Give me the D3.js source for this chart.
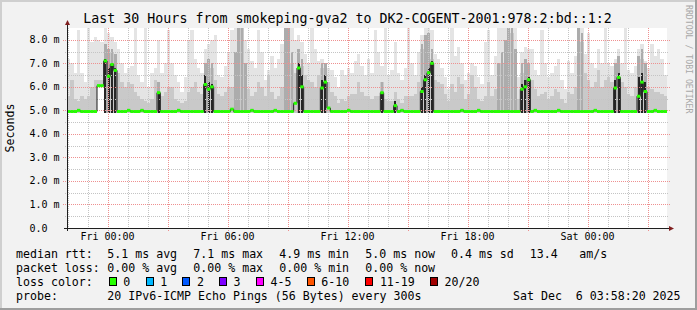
<!DOCTYPE html>
<html>
<head>
<meta charset="utf-8">
<script src="https://cdn.jsdelivr.net/npm/d3@7"></script>
<style>
  body { margin: 0; background: #fff; }
  svg text { font-family: "DejaVu Sans Mono", monospace; fill: #000; }
</style>
</head>
<body>
<div id="chart"></div>
<script>
// 10 minute bins, 30 hours back from Sat Dec 6 03:58:20 2025
const start = new Date(2025, 11, 4, 21, 58, 20);
const end = new Date(2025, 11, 6, 3, 58, 20);
const stepMinutes = 10;

// median rtt (ms)
const median = [
  4.95,4.95,4.95,5.0,4.95,4.95,4.95,4.95,4.95,6.05,6.05,7.1,6.45,6.95,6.7,4.95,4.95,4.95,5.0,4.95,
  4.95,4.95,5.0,4.95,4.95,4.95,4.95,5.75,4.95,4.95,4.95,4.95,4.95,5.0,4.95,4.95,4.95,4.95,4.95,4.95,
  4.95,6.1,5.9,6.0,4.95,4.95,4.95,4.95,4.95,5.05,4.95,4.95,4.95,4.95,4.95,5.0,4.95,4.95,4.95,4.95,
  4.95,4.95,5.0,4.95,4.95,4.95,4.95,4.95,5.3,6.8,6.0,4.95,4.95,4.95,4.95,4.95,5.95,6.2,5.1,4.95,
  4.95,4.95,4.95,4.95,5.0,4.95,4.95,4.95,4.95,4.95,4.95,4.95,4.95,4.95,5.75,4.95,4.95,4.95,5.2,4.95,
  5.0,4.95,4.95,4.95,4.95,4.95,5.8,6.3,6.6,7.0,4.95,4.95,4.95,4.95,4.95,4.95,4.95,4.95,5.0,4.95,
  4.95,4.95,4.95,5.0,4.95,4.95,4.95,4.95,4.95,4.95,4.95,4.95,4.95,4.95,4.95,4.95,5.9,6.0,6.3,4.95,
  5.0,4.95,4.95,4.95,4.95,4.95,4.95,5.0,4.95,4.95,4.95,4.95,4.95,4.95,4.95,4.95,4.95,4.95,5.0,4.95,
  4.95,4.95,4.95,4.95,5.95,6.4,4.95,4.95,4.95,4.95,4.95,5.6,6.2,5.8,4.95,4.95,5.0,4.95,4.95,4.95
];

// lowest ping of the bin (ms)
const lowPing = [
  4.9,4.9,4.9,4.9,4.9,4.9,4.9,4.9,4.9,6.0,6.0,4.9,4.9,4.9,4.9,4.9,4.9,4.9,4.9,4.9,
  4.9,4.9,4.9,4.9,4.9,4.9,4.9,4.9,4.9,4.9,4.9,4.9,4.9,4.9,4.9,4.9,4.9,4.9,4.9,4.9,
  4.9,4.9,4.9,4.9,4.9,4.9,4.9,4.9,4.9,4.9,4.9,4.9,4.9,4.9,4.9,4.9,4.9,4.9,4.9,4.9,
  4.9,4.9,4.9,4.9,4.9,4.9,4.9,4.9,4.9,4.9,4.9,4.9,4.9,4.9,4.9,4.9,4.9,4.9,4.9,4.9,
  4.9,4.9,4.9,4.9,4.9,4.9,4.9,4.9,4.9,4.9,4.9,4.9,4.9,4.9,4.9,4.9,4.9,4.9,4.9,4.9,
  4.9,4.9,4.9,4.9,4.9,4.9,4.9,4.9,4.9,4.9,4.9,4.9,4.9,4.9,4.9,4.9,4.9,4.9,4.9,4.9,
  4.9,4.9,4.9,4.9,4.9,4.9,4.9,4.9,4.9,4.9,4.9,4.9,4.9,4.9,4.9,4.9,4.9,4.9,4.9,4.9,
  4.9,4.9,4.9,4.9,4.9,4.9,4.9,4.9,4.9,4.9,4.9,4.9,4.9,4.9,4.9,4.9,4.9,4.9,4.9,4.9,
  4.9,4.9,4.9,4.9,4.9,4.9,4.9,4.9,4.9,4.9,4.9,4.9,4.9,4.9,4.9,4.9,4.9,4.9,4.9,4.9
];

// highest ping of the bin (outer smoke)
const highPing = [
  7.2,7.0,6.6,8.4,6.6,6.2,8.5,7.9,8.1,8.0,7.9,8.5,8.3,8.1,7.9,7.6,7.0,6.6,6.8,6.9,
  8.5,6.5,6.2,8.5,6.0,6.6,6.8,8.0,6.6,7.0,8.4,7.0,6.5,6.2,5.8,6.4,8.0,8.4,7.2,6.8,
  6.6,7.6,7.8,8.0,8.2,6.5,6.4,6.9,7.5,8.4,8.5,8.5,8.5,8.0,7.6,7.1,6.8,8.4,7.5,6.3,
  6.7,7.3,6.8,7.2,7.8,8.5,8.5,8.5,8.0,8.2,7.9,7.4,7.0,8.5,7.6,7.1,7.2,7.0,6.8,6.7,
  6.4,6.0,6.7,6.5,6.8,6.6,7.1,7.4,6.9,6.5,7.2,6.6,8.4,7.5,6.9,8.5,6.5,6.7,7.9,6.6,
  6.3,6.8,8.5,7.0,6.5,7.5,8.2,8.5,8.5,8.4,7.4,7.2,6.8,6.4,5.9,8.5,7.3,7.7,7.0,6.3,
  6.6,7.0,6.9,6.4,6.1,7.9,8.4,6.5,7.3,8.5,8.5,8.5,8.5,8.5,8.5,6.4,7.5,7.7,7.6,7.6,
  6.7,6.5,8.4,7.0,6.4,6.6,6.9,7.2,6.3,5.9,7.1,6.6,7.3,8.5,8.5,7.4,8.3,7.0,6.8,7.6,
  7.0,8.5,7.0,6.9,7.2,7.6,7.0,8.5,6.7,6.6,6.9,7.6,7.8,7.1,6.8,7.8,7.3,7.6,7.2,6.5
];

// upper bulk of the pings (middle smoke)
const midPing = [
  5.6,6.3,5.5,5.4,5.6,5.5,5.6,6.0,6.3,6.3,6.3,7.6,7.6,7.5,7.3,6.6,6.2,6.0,6.2,6.1,
  5.8,5.6,5.5,5.4,5.3,5.5,6.3,6.0,5.6,5.8,6.0,6.0,5.5,5.4,5.3,5.4,5.8,6.0,6.2,5.8,
  5.7,6.9,7.0,6.8,6.3,5.7,5.6,5.8,6.0,6.0,7.0,8.3,8.5,6.5,5.9,5.6,5.8,6.2,6.0,5.6,
  6.5,5.8,5.5,5.6,6.0,7.8,7.8,7.0,6.6,7.3,6.9,6.5,6.3,6.2,6.0,6.5,6.8,6.6,6.2,5.8,
  5.6,5.3,5.5,5.4,5.6,5.7,5.7,6.2,5.8,5.6,5.6,5.5,5.6,5.6,6.2,5.5,5.4,5.4,5.8,5.5,
  5.3,5.6,5.6,5.6,5.7,6.2,7.6,7.8,7.9,7.2,6.3,6.2,6.1,5.7,5.4,6.1,5.8,6.4,6.1,5.5,
  5.7,6.5,6.0,5.5,5.4,5.6,6.2,5.6,5.9,6.6,7.0,7.5,8.2,8.3,7.2,5.5,6.6,6.8,6.7,6.3,
  5.9,5.6,5.7,5.8,5.5,5.6,5.9,5.8,5.5,5.3,5.8,5.7,6.0,8.0,7.9,6.6,6.3,6.0,6.2,6.7,
  6.0,6.3,6.4,6.2,6.8,7.1,6.2,6.0,5.7,5.6,6.0,6.9,7.2,6.5,6.0,5.9,5.8,5.8,5.7,5.6
];

// inner band of the pings in busy bins (darker smoke), 0 = none
const corePing = [
  0,0,0,0,0,0,0,0,0,0,0,7.8,7.6,7.6,7.4,0,0,0,0,0,
  0,0,0,0,0,0,0,6.2,0,0,0,0,0,0,0,0,0,0,0,0,
  0,7.0,7.2,7.0,0,0,0,0,0,0,7.5,8.5,8.5,7.0,0,0,0,0,0,0,
  0,0,0,0,0,8.5,8.5,7.5,0,7.6,7.2,0,0,0,0,0,7.0,7.0,0,0,
  0,0,0,0,0,0,0,0,0,0,0,0,0,0,6.2,0,0,0,0,0,
  0,0,0,0,0,0,7.8,8.2,8.3,7.6,0,0,0,0,0,0,0,0,0,0,
  0,0,0,0,0,0,0,0,0,7.0,7.5,8.0,8.5,8.5,7.6,0,7.0,7.2,7.0,0,
  0,0,0,0,0,0,0,0,0,0,0,0,0,8.5,8.3,0,0,0,0,0,
  0,0,0,0,7.0,7.3,0,0,0,0,0,7.3,7.6,7.0,0,0,0,0,0,0
];

// dense pings around an elevated median (dark smoke), 0 = none
const densePing = [
  0,0,0,0,0,0,0,0,0,0,0,7.2,6.8,7.0,6.8,0,0,0,0,0,
  0,0,0,0,0,0,0,5.8,0,0,0,0,0,0,0,0,0,0,0,0,
  0,6.5,6.2,6.1,0,0,0,0,0,0,0,0,0,0,0,0,0,0,0,0,
  0,0,0,0,0,0,0,0,0,7.0,6.5,0,0,0,0,0,6.3,6.5,0,0,
  0,0,0,0,0,0,0,0,0,0,0,0,0,0,5.8,0,0,0,5.4,0,
  0,0,0,0,0,0,6.0,6.5,6.8,7.1,0,0,0,0,0,0,0,0,0,0,
  0,0,0,0,0,0,0,0,0,0,0,0,0,0,0,0,6.1,6.3,6.4,0,
  0,0,0,0,0,0,0,0,0,0,0,0,0,0,0,0,0,0,0,0,
  0,0,0,0,6.3,6.6,0,0,0,0,0,6.4,6.6,6.2,0,0,0,0,0,0
];

const yTicks = [0, 1, 2, 3, 4, 5, 6, 7, 8];
const lossLabels = ["0", "1", "2", "3", "4-5", "6-10", "11-19", "20/20"];
const lossColors = ["#26ff00", "#00b8ff", "#0059ff", "#7e00ff", "#ff00ff", "#ff5500", "#ff0000", "#a00000"];

const W = 697, H = 310;
const plot = { left: 67, right: 667, top: 28, bottom: 228 };

const svg = d3.select("#chart").append("svg")
  .attr("width", W).attr("height", H);

// rrdtool style frame
svg.append("rect").attr("width", W).attr("height", H).attr("fill", "#f2f2f2");
svg.append("path").attr("d", `M0,0H${W}V2H2V${H}H0Z`).attr("fill", "#cfcfcf");
svg.append("path").attr("d", `M${W},${H}H0V${H - 2}H${W - 2}V0H${W}Z`).attr("fill", "#9e9e9e");

svg.append("rect")
  .attr("x", plot.left).attr("y", plot.top)
  .attr("width", plot.right - plot.left).attr("height", plot.bottom - plot.top)
  .attr("fill", "#fff");

const x = d3.scaleTime().domain([start, end]).range([plot.left, plot.right]);
const y = d3.scaleLinear().domain([0, 8.5]).range([plot.bottom, plot.top]);

const bins = median.map((m, i) => ({
  t0: d3.timeMinute.offset(start, i * stepMinutes),
  t1: d3.timeMinute.offset(start, (i + 1) * stepMinutes),
  med: m, lo: lowPing[i], hi: highPing[i], mid: midPing[i], core: corePing[i], dense: densePing[i]
}));

svg.append("clipPath").attr("id", "clip").append("rect")
  .attr("x", plot.left).attr("y", plot.top)
  .attr("width", plot.right - plot.left).attr("height", plot.bottom - plot.top);

const smoke = svg.append("g").attr("clip-path", "url(#clip)").attr("shape-rendering", "crispEdges");

// frac: share of the bin width the layer covers (thin dark core)
function layer(key, color, frac) {
  smoke.append("g").selectAll("rect")
    .data(bins.filter(d => d[key] > d.lo))
    .join("rect")
    .attr("x", d => x(d.t0) + (x(d.t1) - x(d.t0)) * (1 - frac) / 2)
    .attr("width", d => (x(d.t1) - x(d.t0)) * frac)
    .attr("y", d => y(d[key]))
    .attr("height", d => y(d.lo) - y(d[key]))
    .attr("fill", color);
}
layer("hi", "#e4e4e4", 1);
layer("mid", "#c9c9c9", 1);
layer("core", "#acacac", 0.8);
layer("dense", "#262626", 0.6);

// grid
const grid = svg.append("g").attr("shape-rendering", "crispEdges").attr("stroke-dasharray", "1,1");
const hours = d3.timeHour.range(start, end);
grid.selectAll(".vmin").data(hours.filter(d => d.getHours() % 3 !== 0)).join("line")
  .attr("x1", d => Math.round(x(d)) + 0.5).attr("x2", d => Math.round(x(d)) + 0.5)
  .attr("y1", plot.top).attr("y2", plot.bottom + 2)
  .attr("stroke", "#c4c4c4");
const halfSteps = d3.range(0.5, 8.5, 1);
grid.selectAll(".hmin").data(halfSteps).join("line")
  .attr("x1", plot.left - 2).attr("x2", plot.right + 2)
  .attr("y1", d => Math.round(y(d)) + 0.5).attr("y2", d => Math.round(y(d)) + 0.5)
  .attr("stroke", "#c4c4c4");
grid.selectAll(".vmaj").data(hours.filter(d => d.getHours() % 3 === 0)).join("line")
  .attr("x1", d => Math.round(x(d)) + 0.5).attr("x2", d => Math.round(x(d)) + 0.5)
  .attr("y1", plot.top).attr("y2", plot.bottom + 3)
  .attr("stroke", "#ee9090");
grid.selectAll(".hmaj").data(yTicks.slice(1)).join("line")
  .attr("x1", plot.left - 4).attr("x2", plot.right + 3)
  .attr("y1", d => Math.round(y(d)) + 0.5).attr("y2", d => Math.round(y(d)) + 0.5)
  .attr("stroke", "#ee9090");

// median line
const medLine = d3.line()
  .x(d => x(d.t)).y(d => y(d.v))
  .curve(d3.curveStepAfter);
const medPts = bins.map(d => ({ t: d.t0, v: d.med })).concat([{ t: bins[bins.length - 1].t1, v: bins[bins.length - 1].med }]);
const medG = svg.append("g").attr("clip-path", "url(#clip)");
medG.append("path").datum(medPts)
  .attr("d", medLine).attr("fill", "none").attr("stroke", "#1a1a1a").attr("stroke-width", 1);
medG.selectAll(".seg").data(bins).join("line")
  .attr("x1", d => x(d.t0)).attr("x2", d => x(d.t1))
  .attr("y1", d => y(d.med)).attr("y2", d => y(d.med))
  .attr("stroke", lossColors[0]).attr("stroke-width", 3);

// axes
const axisColor = "#1f1f1f", arrowColor = "#801f1f";
svg.append("line").attr("x1", plot.left - 3).attr("x2", plot.right + 3)
  .attr("y1", plot.bottom + 0.5).attr("y2", plot.bottom + 0.5)
  .attr("stroke", axisColor);
svg.append("line").attr("x1", plot.left + 0.5).attr("x2", plot.left + 0.5)
  .attr("y1", plot.bottom + 3).attr("y2", plot.top - 4)
  .attr("stroke", axisColor);
svg.append("path")
  .attr("d", `M${plot.right + 2},${plot.bottom - 2}L${plot.right + 7},${plot.bottom + 0.5}L${plot.right + 2},${plot.bottom + 3}Z`)
  .attr("fill", arrowColor);
svg.append("path")
  .attr("d", `M${plot.left - 2},${plot.top - 3}L${plot.left + 0.5},${plot.top - 8}L${plot.left + 3},${plot.top - 3}Z`)
  .attr("fill", arrowColor);

// tick labels
svg.selectAll(".ylab").data(yTicks).join("text")
  .attr("x", 29.5).attr("y", d => y(d) + 3.5)
  .attr("font-size", 10)
  .text(d => d === 0 ? "0.0" : d.toFixed(1) + " m");

const fmt = d3.timeFormat("%a %H:%M");
svg.selectAll(".xlab").data(hours.filter(d => d.getHours() % 6 === 0)).join("text")
  .attr("x", d => x(d)).attr("y", 240)
  .attr("text-anchor", "middle").attr("font-size", 10)
  .text(d => fmt(d));

// title and labels
svg.append("text").attr("x", 347.5).attr("y", 23)
  .attr("text-anchor", "middle").attr("font-size", 13.3)
  .text("Last 30 Hours from smokeping-gva2 to DK2-COGENT-2001:978:2:bd::1:2");

svg.append("text").attr("transform", "translate(14,128) rotate(-90)")
  .attr("text-anchor", "middle").attr("font-size", 11.6)
  .text("Seconds");

svg.append("text").attr("transform", "translate(685.5,5) rotate(90)")
  .attr("font-size", 8.2).style("fill", "#a8a8a8")
  .text("RRDTOOL / TOBI OETIKER");

// legend
const legendRows = [
  { y: 258, items: [[16, "median rtt:"], [107.3, "5.1 ms avg"], [193.3, "7.1 ms max"], [279.3, "4.9 ms min"], [365.3, "5.0 ms now"], [451, "0.4 ms sd"], [529.7, "13.4"], [579.3, "am/s"]] },
  { y: 272, items: [[16, "packet loss:"], [107.3, "0.00 % avg"], [193.3, "0.00 % max"], [279.3, "0.00 % min"], [365.3, "0.00 % now"]] },
  { y: 286, items: [[16, "loss color:"]] },
  { y: 300, items: [[16, "probe:"], [107.3, "20 IPv6-ICMP Echo Pings (56 Bytes) every 300s"], [513, "Sat Dec  6 03:58:20 2025"]] }
];
legendRows.forEach(r => {
  r.items.forEach(([lx, s]) => {
    svg.append("text").attr("x", lx).attr("y", r.y)
      .attr("font-size", 11.6).attr("xml:space", "preserve")
      .style("white-space", "pre").text(s);
  });
});

const boxX = [108.7, 145.7, 182.3, 219, 256, 306.7, 365.3, 430];
const lg = svg.append("g");
lossLabels.forEach((lab, i) => {
  lg.append("rect").attr("x", boxX[i] + 0.5).attr("y", 277.5)
    .attr("width", 7).attr("height", 8)
    .attr("fill", lossColors[i]).attr("stroke", "#000").attr("shape-rendering", "crispEdges");
  lg.append("text").attr("x", boxX[i] + 14.6).attr("y", 286)
    .attr("font-size", 11.6).text(lab);
});
</script>
</body>
</html>
